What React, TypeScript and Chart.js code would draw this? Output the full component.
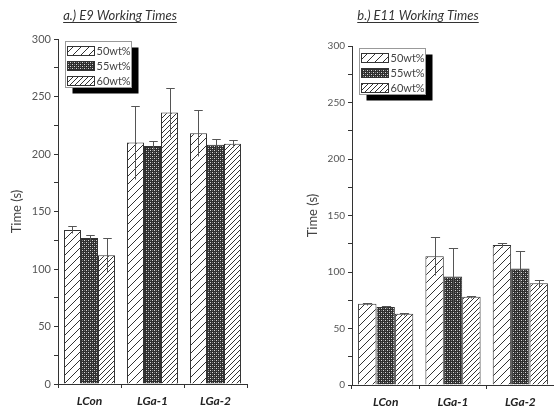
import React, { useEffect, useRef } from 'react';
import { Chart, registerables } from 'chart.js';
Chart.register(...registerables);

const categories = ['LCon', 'LGa-1', 'LGa-2'];
const seriesLabels = ['50wt%', '55wt%', '60wt%'];
const yTicks = [0, 50, 100, 150, 200, 250, 300];

const e9_50 = [134, 210, 218];
const e9_50err = [3, 32, 20];
const e9_55 = [127, 207, 208];
const e9_55err = [3, 4, 5];
const e9_60 = [112, 236, 209];
const e9_60err = [15, 21, 3];

const e11_50 = [72, 114, 124];
const e11_50err = [1, 17, 2];
const e11_55 = [69, 96, 103];
const e11_55err = [1, 25, 16];
const e11_60 = [63, 78, 90];
const e11_60err = [1, 1, 3];

const FONT = 'Lato, "Open Sans", sans-serif';

function diagPattern(ctx: CanvasRenderingContext2D, s: number) {
  const c = document.createElement('canvas');
  c.width = s; c.height = s;
  const g = c.getContext('2d')!;
  g.fillStyle = '#fff';
  g.fillRect(0, 0, s, s);
  g.strokeStyle = '#333';
  g.lineWidth = 1;
  g.beginPath();
  g.moveTo(-1, s + 1); g.lineTo(s + 1, -1);
  g.moveTo(-2, 2); g.lineTo(2, -2);
  g.moveTo(s - 2, s + 2); g.lineTo(s + 2, s - 2);
  g.stroke();
  return ctx.createPattern(c, 'repeat')!;
}

function dotPattern(ctx: CanvasRenderingContext2D) {
  const c = document.createElement('canvas');
  c.width = 4; c.height = 4;
  const g = c.getContext('2d')!;
  g.fillStyle = '#2e2e2e';
  g.fillRect(0, 0, 4, 4);
  g.fillStyle = '#d8d8d8';
  g.fillRect(0, 0, 1, 1);
  g.fillRect(2, 2, 1, 1);
  g.fillStyle = '#777';
  g.fillRect(2, 0, 1, 1);
  g.fillRect(0, 2, 1, 1);
  return ctx.createPattern(c, 'repeat')!;
}

const errorBarPlugin = {
  id: 'errorBars',
  afterDatasetsDraw(chart: any) {
    const { ctx } = chart;
    const y = chart.scales.y;
    chart.data.datasets.forEach((ds: any, i: number) => {
      const meta = chart.getDatasetMeta(i);
      meta.data.forEach((bar: any, j: number) => {
        const v = ds.data[j];
        const e = ds.errors[j];
        const top = Math.round(y.getPixelForValue(v + e)) + 0.5;
        const bot = Math.round(y.getPixelForValue(v - e)) + 0.5;
        const x = Math.round(bar.x) + 0.5;
        const cap = bar.width * 0.25;
        ctx.save();
        ctx.strokeStyle = '#555';
        ctx.lineWidth = 1;
        ctx.beginPath();
        ctx.moveTo(x, bot); ctx.lineTo(x, top);
        ctx.moveTo(x - cap, top); ctx.lineTo(x + cap, top);
        ctx.stroke();
        ctx.restore();
      });
    });
  },
};

const boxLegendPlugin = {
  id: 'boxLegend',
  afterDraw(chart: any, _a: any, opts: any) {
    const { ctx, chartArea } = chart;
    const x0 = Math.round(chartArea.left + opts.dx) + 0.5;
    const y0 = Math.round(chartArea.top + opts.dy) + 0.5;
    const w = 66, h = 46;
    ctx.save();
    ctx.fillStyle = '#000';
    ctx.fillRect(x0 + 7, y0 + 6, w, h);
    ctx.fillStyle = '#fff';
    ctx.fillRect(x0, y0, w, h);
    ctx.strokeStyle = '#999';
    ctx.lineWidth = 1;
    ctx.strokeRect(x0, y0, w, h);
    chart.data.datasets.forEach((ds: any, i: number) => {
      const ry = y0 + 5 + i * 15;
      ctx.fillStyle = ds.backgroundColor;
      ctx.fillRect(x0 + 2, ry, 27, 9);
      ctx.strokeStyle = '#333';
      ctx.strokeRect(x0 + 2, ry, 27, 9);
      ctx.fillStyle = '#444';
      ctx.font = `11px ${FONT}`;
      ctx.textBaseline = 'middle';
      ctx.textAlign = 'left';
      ctx.fillText(ds.label, x0 + 31, ry + 5);
    });
    ctx.restore();
  },
};

const titlePlugin = {
  id: 'ulTitle',
  afterDraw(chart: any, _a: any, opts: any) {
    const { ctx } = chart;
    ctx.save();
    ctx.font = `italic 13px ${FONT}`;
    ctx.fillStyle = '#333';
    ctx.textAlign = 'center';
    ctx.textBaseline = 'alphabetic';
    ctx.fillText(opts.text, opts.x, 20);
    const w = ctx.measureText(opts.text).width;
    ctx.strokeStyle = '#333';
    ctx.lineWidth = 1;
    ctx.beginPath();
    ctx.moveTo(opts.x - w / 2, 22.5);
    ctx.lineTo(opts.x + w / 2, 22.5);
    ctx.stroke();
    ctx.restore();
  },
};

type Props = {
  title: string;
  titleX: number;
  s50: number[]; s50e: number[];
  s55: number[]; s55e: number[];
  s60: number[]; s60e: number[];
  pad: { left: number; right: number; top: number; bottom: number };
  yWidth: number;
  xHeight: number;
  tickFont: number;
  catPct: number;
  left: number;
};

function Panel(p: Props) {
  const ref = useRef<HTMLCanvasElement>(null);
  useEffect(() => {
    const canvas = ref.current!;
    const ctx = canvas.getContext('2d')!;
    const chart = new Chart(canvas, {
      type: 'bar',
      data: {
        labels: categories,
        datasets: [
          { label: seriesLabels[0], data: p.s50, errors: p.s50e, backgroundColor: diagPattern(ctx, 8) },
          { label: seriesLabels[1], data: p.s55, errors: p.s55e, backgroundColor: dotPattern(ctx) },
          { label: seriesLabels[2], data: p.s60, errors: p.s60e, backgroundColor: diagPattern(ctx, 5) },
        ].map((d: any) => ({ ...d, borderColor: '#333', borderWidth: 1, categoryPercentage: p.catPct, barPercentage: 1 })),
      } as any,
      options: {
        responsive: false,
        animation: false,
        layout: { padding: p.pad },
        plugins: {
          legend: { display: false },
          tooltip: { enabled: false },
          title: { display: false },
          errorBars: {},
          boxLegend: { dx: 7, dy: 2 },
          ulTitle: { text: p.title, x: p.titleX },
        } as any,
        scales: {
          x: {
            grid: { offset: true, drawOnChartArea: false, tickLength: 4, color: '#333' },
            border: { color: '#333', width: 1 },
            ticks: { color: '#222', font: { family: FONT, size: 12, weight: 'bold', style: 'italic' }, padding: 6 },
            afterFit: (s: any) => { s.height = p.xHeight; },
          },
          y: {
            min: 0,
            max: 300,
            grid: { drawOnChartArea: false, tickLength: 4, color: '#333' },
            border: { color: '#333', width: 1 },
            ticks: {
              stepSize: 25,
              color: '#555',
              font: { family: FONT, size: p.tickFont },
              padding: 3,
              callback: (v: any) => (yTicks.includes(Number(v)) ? String(v) : ''),
            },
            title: { display: true, text: 'Time (s)', color: '#444', font: { family: FONT, size: 13 }, padding: { top: 3, bottom: 4 } },
            afterFit: (s: any) => { s.width = p.yWidth; },
          },
        },
      } as any,
      plugins: [errorBarPlugin, boxLegendPlugin, titlePlugin] as any,
    });
    return () => chart.destroy();
  }, []);
  return (
    <canvas
      ref={ref}
      width={277}
      height={410}
      style={{ position: 'fixed', left: p.left, top: 0, width: 277, height: 410 }}
    />
  );
}

export default function App() {
  return (
    <div style={{ position: 'fixed', left: 0, top: 0, width: 554, height: 410, background: '#fff' }}>
      <Panel
        title="a.) E9 Working Times"
        titleX={120}
        s50={e9_50} s50e={e9_50err}
        s55={e9_55} s55e={e9_55err}
        s60={e9_60} s60e={e9_60err}
        pad={{ left: 6, right: 30, top: 39, bottom: 0 }}
        yWidth={52}
        xHeight={26}
        tickFont={11}
        catPct={0.81}
        left={0}
      />
      <Panel
        title="b.) E11 Working Times"
        titleX={141}
        s50={e11_50} s50e={e11_50err}
        s55={e11_55} s55e={e11_55err}
        s60={e11_60} s60e={e11_60err}
        pad={{ left: 25, right: 0, top: 46, bottom: 0 }}
        yWidth={50}
        xHeight={25}
        tickFont={10}
        catPct={0.82}
        left={277}
      />
    </div>
  );
}
